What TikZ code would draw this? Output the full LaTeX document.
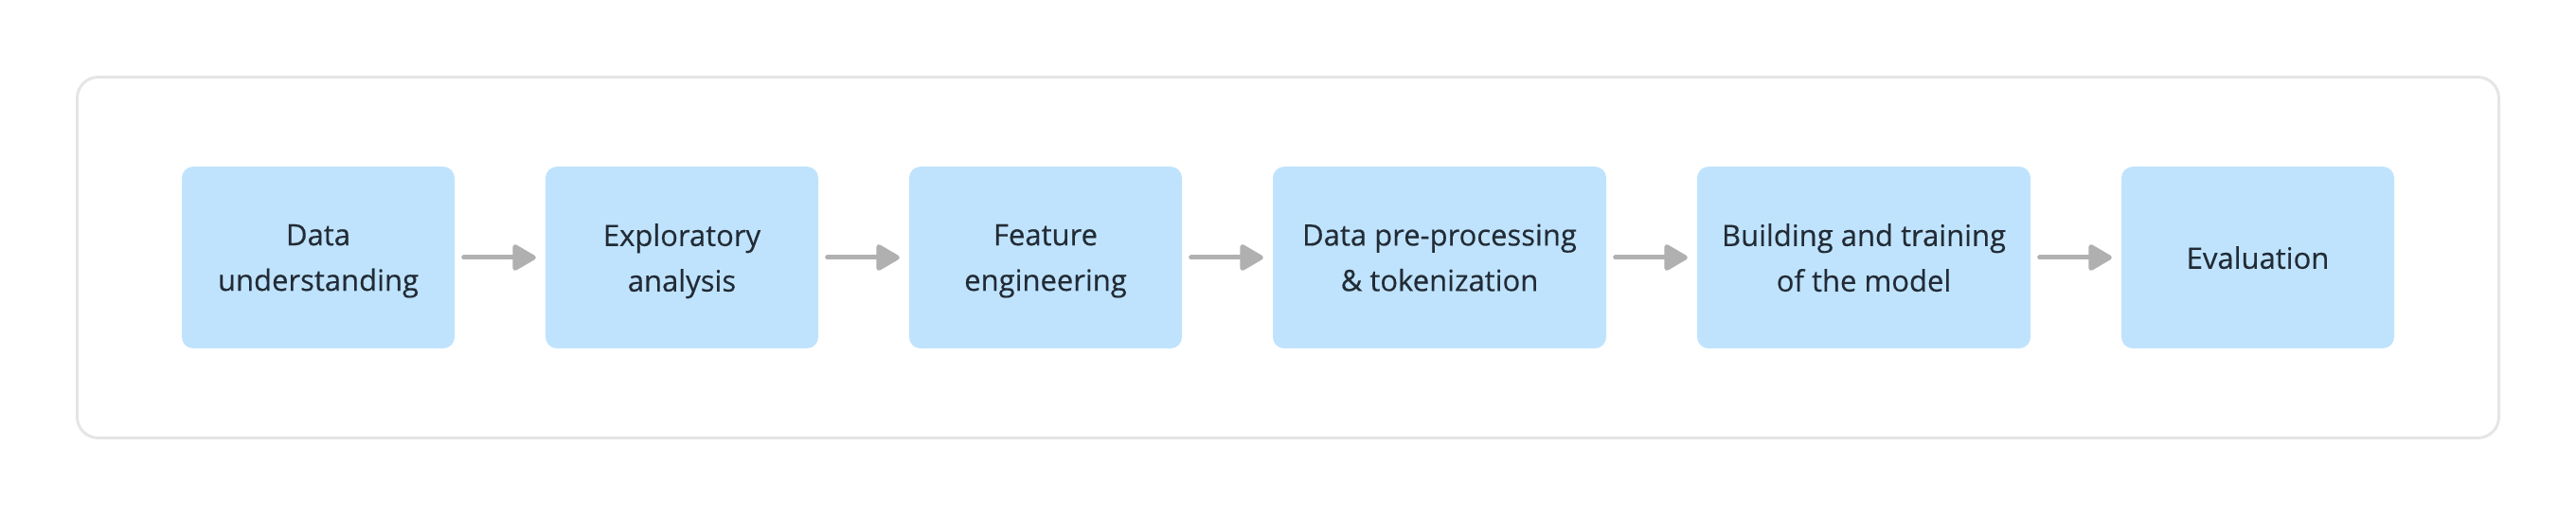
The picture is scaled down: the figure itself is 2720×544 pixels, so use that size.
\documentclass[tikz,border=0pt]{standalone}
\usepackage{fontspec}
\setmainfont{Open Sans}[FakeBold=0.35]
\usetikzlibrary{arrows.meta}
\definecolor{boxfill}{HTML}{BFE3FC}
\definecolor{txt}{HTML}{222B36}
\definecolor{frame}{HTML}{E5E5E5}
\definecolor{arrowc}{HTML}{B0B0B0}
\tikzset{
  stage/.style={fill=boxfill, rounded corners=12pt, minimum height=192pt, inner sep=0pt,
    align=center, text=txt, font=\fontsize{31}{48}\selectfont, text depth=0pt},
  narrow/.style={stage, minimum width=288pt},
  wide/.style={stage, minimum width=352pt},
  flow/.style={draw=arrowc, line width=5pt, line cap=round,
    -{Triangle[length=27pt,width=30pt,line join=round]}, shorten <=2.5pt},
}
\begin{document}
\begin{tikzpicture}[x=1pt,y=1pt]
\useasboundingbox (0,0) rectangle (2720,544);
\draw[frame, line width=3pt, rounded corners=22pt] (81.5,81.5) rectangle (2638.5,462.5);
\node[narrow] (b1) at (336,272) {Data\\understanding};
\node[narrow] (b2) at (720,272) {Exploratory\\analysis};
\node[narrow] (b3) at (1104,272) {Feature\\engineering};
\node[wide] (b4) at (1520,272) {Data pre-processing\\\& tokenization};
\node[wide] (b5) at (1968,272) {Building and training\\of the model};
\node[narrow] (b6) at (2384,272) {Evaluation};
\foreach \a/\b in {b1/b2,b2/b3,b3/b4,b4/b5,b5/b6}{
  \draw[flow] ([xshift=7pt]\a.east) -- ([xshift=-10pt]\b.west);
}
\end{tikzpicture}
\end{document}
